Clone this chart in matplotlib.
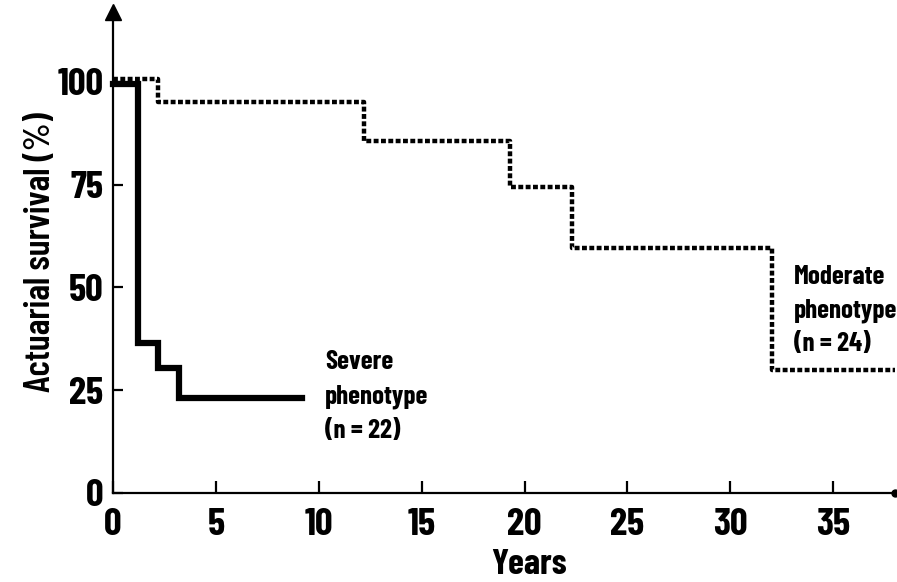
import matplotlib.pyplot as plt

# Survival step data (years, % surviving)
severe_years = [0, 1.2, 2.2, 3.2, 9.2]
severe_surv = [99.5, 36.5, 30.5, 23, 23]

moderate_years = [0, 2.2, 12.2, 19.3, 22.3, 32.0, 38.0]
moderate_surv = [100.7, 95, 85.5, 74.5, 59.5, 30, 30]

x_ticks = [0, 5, 10, 15, 20, 25, 30, 35]
y_ticks = [0, 25, 50, 75, 100]

plt.rcParams['font.family'] = ['Barlow Condensed', 'DejaVu Sans']
plt.rcParams['font.weight'] = 700

fig = plt.figure(figsize=(8.97, 5.82), dpi=100)
ax = fig.add_axes([113 / 897, 89 / 582, (895 - 113) / 897, (493 - 12) / 582])

# Moderate phenotype: dotted step line
ax.step(moderate_years, moderate_surv, where='post', color='black',
        linewidth=3.2, linestyle=(0, (1.1, 0.55)), dash_capstyle='butt',
        clip_on=False)
# Severe phenotype: thick solid step line
ax.step(severe_years, severe_surv, where='post', color='black',
        linewidth=4.5, solid_joinstyle='miter', clip_on=False)

ax.set_xlim(0, 38)
ax.set_ylim(0, 117)
ax.set_xticks(x_ticks)
ax.set_yticks(y_ticks)
ax.tick_params(direction='in', length=9, width=1.6, labelsize=28, pad=11)
ax.tick_params(axis='y', length=7, pad=7)

for side in ['top', 'right']:
    ax.spines[side].set_visible(False)
for side in ['left', 'bottom']:
    ax.spines[side].set_linewidth(1.6)

# arrow on y axis, dot at end of x axis
ax.plot([0], [117], marker='^', markersize=11, color='black', clip_on=False)
ax.plot([38], [0], marker='o', markersize=5, color='black', clip_on=False)

ax.set_ylabel("Actuarial survival (%)", fontsize=26, fontweight=600, labelpad=0)
ax.text(20.2, -0.15, "Years", transform=ax.get_xaxis_transform(),
        ha='center', va='center', fontsize=26)

ax.text(10.3, 34.8, "Severe\nphenotype\n(n = 22)", ha='left', va='top',
        fontsize=19.5, linespacing=1.55)
ax.text(33.1, 55.5, "Moderate\nphenotype\n(n = 24)", ha='left', va='top',
        fontsize=19.5, linespacing=1.5)

plt.savefig("out.png")
